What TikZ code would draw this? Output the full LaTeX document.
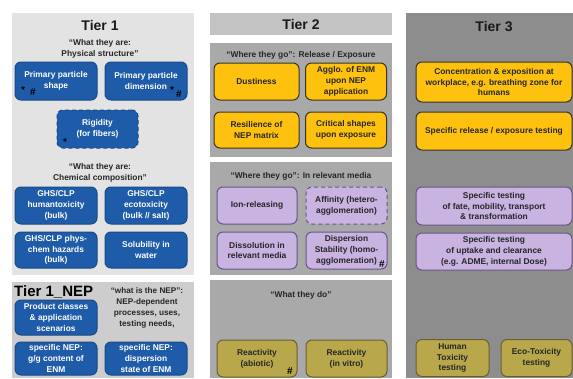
\documentclass[tikz,border=0pt]{standalone}
\usepackage{fontspec}
\setmainfont{Liberation Sans}
\usepackage{tikz}
\usetikzlibrary{positioning}

\definecolor{tieronebg}{HTML}{E3E3E3}
\definecolor{tiernepbg}{HTML}{CDCDCD}
\definecolor{tiertwohead}{HTML}{C3C3C3}
\definecolor{tiertwobg}{HTML}{A9A9A9}
\definecolor{tierthreebg}{HTML}{8D8D8D}
\definecolor{nepblue}{HTML}{1E5BA9}
\definecolor{nepblueline}{HTML}{184A88}
\definecolor{expoyellow}{HTML}{FEC20E}
\definecolor{expoline}{HTML}{3A3224}
\definecolor{medialilac}{HTML}{C8B3E1}
\definecolor{medialine}{HTML}{66568A}
\definecolor{doolive}{HTML}{B8A84B}
\definecolor{doline}{HTML}{6C5E30}

\tikzset{
  cell/.style 2 args={minimum width=#1, minimum height=#2},
  box/.style={draw, rounded corners=6pt, line width=1pt, align=center, inner sep=1pt,
    font=\bfseries\fontsize{8.4}{10.7}\selectfont},
  bluebox/.style={box, fill=nepblue, draw=nepblueline, text=white},
  yellowbox/.style={box, fill=expoyellow, draw=expoline, text=black!85},
  lilacbox/.style={box, fill=medialilac, draw=medialine, text=black!85},
  olivebox/.style={box, fill=doolive, draw=doline, text=black!85},
  dashedbox/.style={dashed, dash pattern=on 4pt off 3pt},
  tiertitle/.style={font=\bfseries\fontsize{14}{16}\selectfont, text=black!90},
  quote/.style={align=center, font=\bfseries\fontsize{8.4}{10.5}\selectfont, text=black!85},
  marker/.style={font=\bfseries\fontsize{10}{10}\selectfont, inner sep=0pt, text=black}
}

\begin{document}
\begin{tikzpicture}[x=1pt, y=-1pt]
\useasboundingbox (0,0) rectangle (573,378);
\fill[white] (0,0) rectangle (573,378);

% panels
\fill[tieronebg] (12,13) rectangle (194,275);
\fill[tiernepbg] (12,282) rectangle (194,378);
\fill[tiertwohead] (210,13) rectangle (392,35);
\fill[tiertwobg] (210,43) rectangle (392,157);
\fill[tiertwobg] (210,162) rectangle (392,275);
\fill[tiertwobg] (210,280) rectangle (392,378);
\fill[tierthreebg] (406,13) rectangle (573,378);

% Tier 1
\node[tiertitle] (t1) at (100,25) {Tier 1};
\node[quote] (t1phys) at (100,49) {“What they are:\\Physical structure”};
\node[bluebox, cell={82pt}{38pt}] (shape) at (56,81) {Primary particle\\shape};
\node[bluebox, cell={82pt}{38pt}] (dimension) at (146,81) {Primary particle\\dimension};
\node[bluebox, dashedbox, cell={81pt}{38pt}] (rigidity) at (97.5,129) {Rigidity\\(for fibers)};
\node[quote] (t1chem) at (100,173) {“What they are:\\Chemical composition”};
\node[bluebox, cell={82pt}{37pt}] (humantox) at (56,205.5) {GHS/CLP\\humantoxicity\\(bulk)};
\node[bluebox, cell={82pt}{37pt}] (ecotox) at (146,205.5) {GHS/CLP\\ecotoxicity\\(bulk // salt)};
\node[bluebox, cell={82pt}{36pt}] (physchem) at (56,250) {GHS/CLP phys-\\chem hazards\\(bulk)};
\node[bluebox, cell={82pt}{36pt}] (solubility) at (146,250) {Solubility in\\water};

\node[marker] (shapestar) at (23,90) {*};
\node[marker] (shapehash) at (33,92) {\#};
\node[marker] (dimstar) at (172,90) {*};
\node[marker] (dimhash) at (179,94) {\#};
\node[marker] (rigstar) at (65,142) {*};

% Tier 1_NEP
\node[font=\bfseries\fontsize{15}{17}\selectfont, anchor=west, inner sep=0pt] (t1nep) at (14,292) {Tier 1\_NEP};
\node[quote, font=\bfseries\fontsize{8.2}{11}\selectfont] (nepwhat) at (147,308) {“what is the NEP”:\\NEP-dependent\\processes, uses,\\testing needs,};
\node[bluebox, cell={82pt}{35pt}] (product) at (56,317.5) {Product classes\\\& application\\scenarios};
\node[bluebox, cell={82pt}{33pt}] (content) at (56,358.5) {specific NEP:\\g/g content of\\ENM};
\node[bluebox, cell={82pt}{33pt}] (dispstate) at (146,358.5) {specific NEP:\\dispersion\\state of ENM};

% Tier 2
\node[tiertitle] (t2) at (301,24) {Tier 2};
\node[quote] (t2release) at (301,55) {“Where they go”: Release / Exposure};
\node[yellowbox, cell={85pt}{37pt}] (dustiness) at (256.5,81.5) {Dustiness};
\node[yellowbox, cell={81pt}{37pt}] (agglo) at (346,81.5) {Agglo. of ENM\\upon NEP\\application};
\node[yellowbox, cell={85pt}{36pt}] (resilience) at (256.5,130) {Resilience of\\NEP matrix};
\node[yellowbox, cell={81pt}{36pt}] (critical) at (346,130) {Critical shapes\\upon exposure};

\node[quote] (t2media) at (301,176) {“Where they go”: In relevant media};
\node[lilacbox, cell={80pt}{37pt}] (ion) at (257,205.5) {Ion-releasing};
\node[lilacbox, dashedbox, cell={81pt}{37pt}] (affinity) at (346.5,205.5) {Affinity (hetero-\\agglomeration)};
\node[lilacbox, cell={80pt}{37pt}] (dissolution) at (257,250.5) {Dissolution in\\relevant media};
\node[lilacbox, cell={81pt}{37pt}] (stability) at (346.5,250.5) {Dispersion\\Stability (homo-\\agglomeration)};
\node[marker] (stabhash) at (382,264) {\#};

\node[quote] (t2do) at (301,295) {“What they do”};
\node[olivebox, cell={80pt}{37pt}] (abiotic) at (257,358.5) {Reactivity\\(abiotic)};
\node[olivebox, cell={81pt}{37pt}] (invitro) at (346.5,358.5) {Reactivity\\(in vitro)};
\node[marker] (abiohash) at (290,371) {\#};

% Tier 3
\node[tiertitle] (t3) at (494,27) {Tier 3};
\node[yellowbox, cell={156pt}{40pt}] (concentration) at (494,82) {Concentration \& exposition at\\workplace, e.g. breathing zone for\\humans};
\node[yellowbox, cell={156pt}{38pt}] (specrelease) at (494,131) {Specific release / exposure testing};
\node[lilacbox, cell={156pt}{38pt}] (fate) at (494,206) {Specific testing\\of fate, mobility, transport\\\& transformation};
\node[lilacbox, cell={156pt}{37pt}] (uptake) at (494,251.5) {Specific testing\\of uptake and clearance\\(e.g. ADME, internal Dose)};
\node[olivebox, cell={73pt}{37pt}] (humantest) at (452.5,358) {Human\\Toxicity\\testing};
\node[olivebox, cell={71pt}{37pt}] (ecotest) at (536.5,358) {Eco-Toxicity\\testing};
\end{tikzpicture}
\end{document}
